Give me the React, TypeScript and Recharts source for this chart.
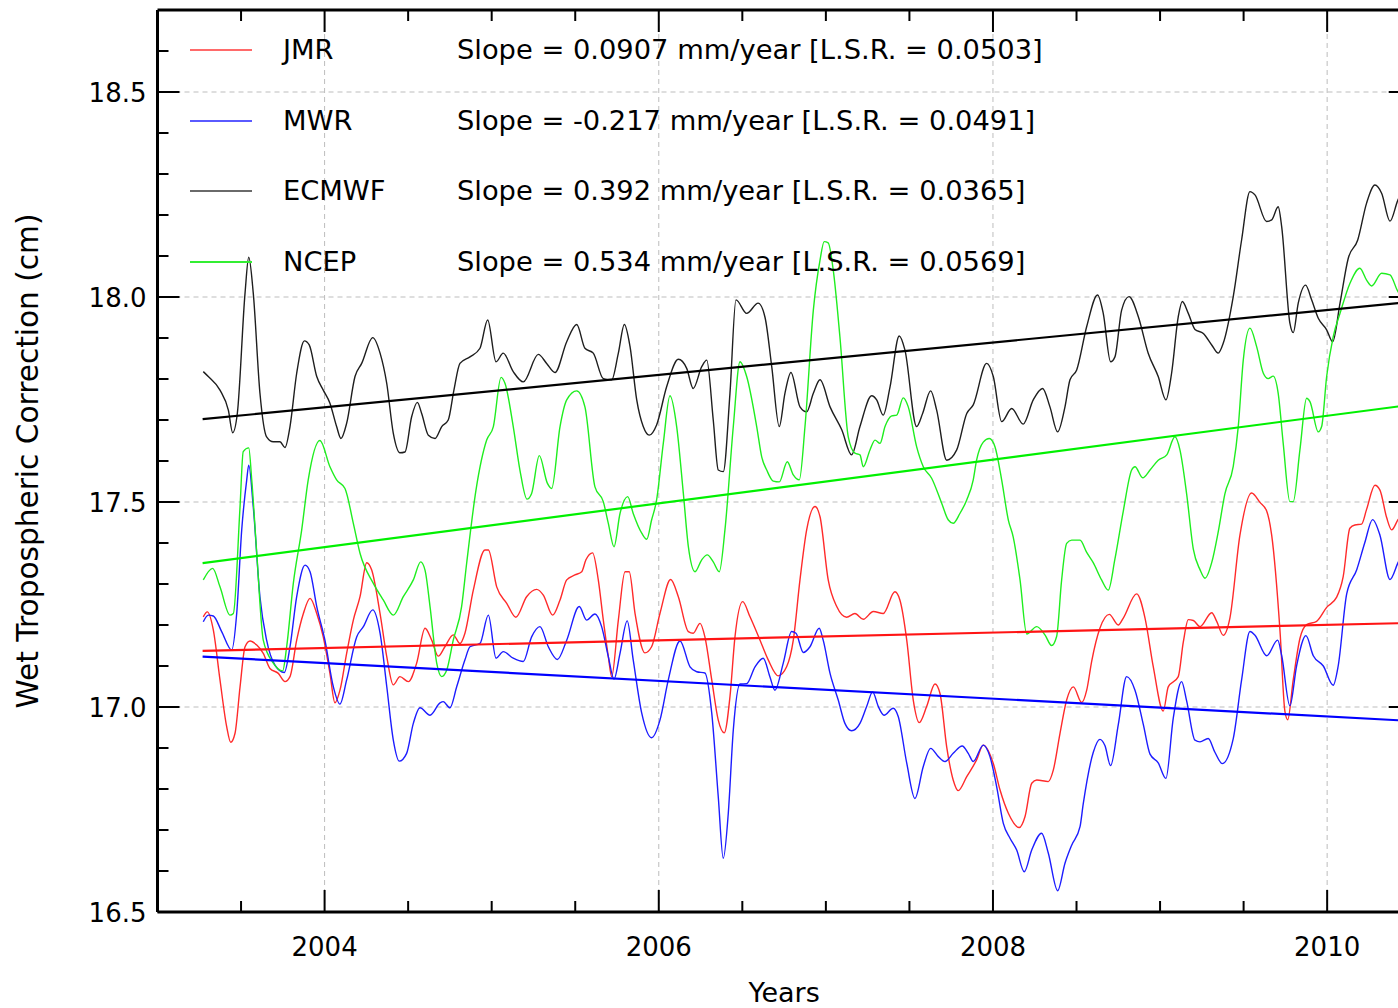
import React from 'react';
import { LineChart, Line, XAxis, YAxis, ReferenceLine, Legend, Label } from 'recharts';

const FONT = '"DejaVu Sans", "Bitstream Vera Sans", sans-serif';

// [year, wet tropospheric correction in cm]
const jmrPts: [number, number][] = [
  [2003.274, 17.22], [2003.298, 17.232], [2003.334, 17.188], [2003.374, 17.066], [2003.414, 16.952],
  [2003.438, 16.914], [2003.464, 16.936], [2003.494, 17.049], [2003.524, 17.147], [2003.554, 17.161],
  [2003.594, 17.151], [2003.633, 17.131], [2003.673, 17.094], [2003.723, 17.082], [2003.763, 17.062],
  [2003.793, 17.074], [2003.833, 17.163], [2003.873, 17.228], [2003.913, 17.265], [2003.953, 17.228],
  [2003.992, 17.171], [2004.032, 17.082], [2004.062, 17.01], [2004.092, 17.041], [2004.132, 17.131],
  [2004.172, 17.212], [2004.212, 17.269], [2004.252, 17.352], [2004.282, 17.334], [2004.332, 17.228],
  [2004.372, 17.123], [2004.411, 17.054], [2004.451, 17.074], [2004.501, 17.062], [2004.551, 17.107],
  [2004.601, 17.192], [2004.641, 17.163], [2004.68, 17.124], [2004.72, 17.147], [2004.77, 17.176],
  [2004.81, 17.155], [2004.84, 17.18], [2004.89, 17.285], [2004.96, 17.383], [2004.98, 17.383],
  [2005.03, 17.293], [2005.09, 17.253], [2005.145, 17.219], [2005.209, 17.269], [2005.269, 17.287],
  [2005.309, 17.273], [2005.365, 17.224], [2005.409, 17.261], [2005.449, 17.31], [2005.498, 17.322],
  [2005.539, 17.33], [2005.564, 17.359], [2005.604, 17.376], [2005.638, 17.31], [2005.668, 17.212],
  [2005.698, 17.123], [2005.718, 17.074], [2005.758, 17.212], [2005.798, 17.33], [2005.823, 17.33],
  [2005.858, 17.228], [2005.917, 17.132], [2005.957, 17.147], [2006.007, 17.228], [2006.071, 17.311],
  [2006.117, 17.269], [2006.177, 17.184], [2006.206, 17.18], [2006.247, 17.204], [2006.276, 17.171],
  [2006.317, 17.066], [2006.356, 16.968], [2006.392, 16.937], [2006.426, 17.025], [2006.456, 17.171],
  [2006.502, 17.257], [2006.546, 17.22], [2006.606, 17.163], [2006.655, 17.115], [2006.715, 17.076],
  [2006.765, 17.098], [2006.805, 17.163], [2006.845, 17.31], [2006.885, 17.432], [2006.935, 17.489],
  [2006.965, 17.464], [2007.014, 17.31], [2007.065, 17.245], [2007.124, 17.219], [2007.174, 17.228],
  [2007.224, 17.214], [2007.284, 17.233], [2007.343, 17.228], [2007.413, 17.281], [2007.443, 17.261],
  [2007.484, 17.163], [2007.523, 17.017], [2007.559, 16.962], [2007.603, 17.001], [2007.653, 17.056],
  [2007.683, 17.033], [2007.723, 16.903], [2007.762, 16.822], [2007.792, 16.796], [2007.843, 16.83],
  [2007.902, 16.871], [2007.942, 16.907], [2008.002, 16.862], [2008.042, 16.798], [2008.092, 16.741],
  [2008.157, 16.706], [2008.192, 16.733], [2008.232, 16.814], [2008.262, 16.822], [2008.331, 16.818],
  [2008.361, 16.846], [2008.401, 16.935], [2008.441, 17.017], [2008.481, 17.049], [2008.531, 17.011],
  [2008.561, 17.041], [2008.591, 17.112], [2008.64, 17.192], [2008.696, 17.226], [2008.75, 17.2],
  [2008.78, 17.217], [2008.86, 17.276], [2008.91, 17.217], [2008.959, 17.099], [2009.019, 16.99],
  [2009.049, 17.049], [2009.109, 17.074], [2009.139, 17.158], [2009.169, 17.213], [2009.199, 17.211],
  [2009.239, 17.196], [2009.309, 17.23], [2009.339, 17.209], [2009.378, 17.175], [2009.418, 17.217],
  [2009.478, 17.419], [2009.548, 17.522], [2009.598, 17.499], [2009.638, 17.478], [2009.668, 17.419],
  [2009.718, 17.184], [2009.747, 16.99], [2009.764, 16.969], [2009.797, 17.066], [2009.837, 17.167],
  [2009.877, 17.201], [2009.937, 17.209], [2009.997, 17.243], [2010.057, 17.268], [2010.096, 17.318],
  [2010.136, 17.436], [2010.166, 17.444], [2010.206, 17.446], [2010.236, 17.482], [2010.286, 17.541],
  [2010.316, 17.529], [2010.356, 17.462], [2010.386, 17.432], [2010.424, 17.457], [2010.5, 17.49],
];

const mwrPts: [number, number][] = [
  [2003.274, 17.208], [2003.304, 17.224], [2003.334, 17.222], [2003.384, 17.184], [2003.444, 17.139],
  [2003.474, 17.228], [2003.504, 17.432], [2003.534, 17.554], [2003.546, 17.59], [2003.573, 17.489],
  [2003.613, 17.269], [2003.653, 17.163], [2003.703, 17.102], [2003.759, 17.084], [2003.793, 17.147],
  [2003.833, 17.269], [2003.883, 17.346], [2003.913, 17.33], [2003.953, 17.245], [2004.002, 17.163],
  [2004.052, 17.05], [2004.092, 17.007], [2004.132, 17.066], [2004.192, 17.171], [2004.232, 17.196],
  [2004.288, 17.237], [2004.332, 17.18], [2004.372, 17.05], [2004.411, 16.92], [2004.447, 16.868],
  [2004.491, 16.887], [2004.531, 16.96], [2004.571, 16.998], [2004.631, 16.98], [2004.691, 17.01],
  [2004.71, 17.013], [2004.75, 16.998], [2004.791, 17.05], [2004.84, 17.115], [2004.87, 17.147],
  [2004.93, 17.155], [2004.98, 17.224], [2005.026, 17.119], [2005.069, 17.135], [2005.129, 17.119],
  [2005.189, 17.111], [2005.239, 17.171], [2005.289, 17.196], [2005.339, 17.147], [2005.393, 17.116],
  [2005.449, 17.163], [2005.524, 17.245], [2005.568, 17.212], [2005.618, 17.227], [2005.658, 17.196],
  [2005.698, 17.123], [2005.732, 17.068], [2005.768, 17.131], [2005.811, 17.21], [2005.847, 17.115],
  [2005.898, 16.985], [2005.957, 16.925], [2006.007, 16.968], [2006.057, 17.066], [2006.127, 17.161],
  [2006.187, 17.098], [2006.227, 17.086], [2006.276, 17.083], [2006.317, 16.985], [2006.356, 16.781],
  [2006.386, 16.631], [2006.416, 16.741], [2006.446, 16.944], [2006.486, 17.056], [2006.526, 17.057],
  [2006.576, 17.098], [2006.625, 17.119], [2006.665, 17.074], [2006.695, 17.041], [2006.745, 17.107],
  [2006.795, 17.184], [2006.821, 17.18], [2006.865, 17.133], [2006.905, 17.147], [2006.96, 17.192],
  [2006.984, 17.163], [2007.025, 17.082], [2007.074, 17.017], [2007.114, 16.96], [2007.154, 16.942],
  [2007.204, 16.96], [2007.244, 17.001], [2007.28, 17.037], [2007.314, 17.001], [2007.348, 16.98],
  [2007.403, 16.997], [2007.433, 16.977], [2007.484, 16.863], [2007.533, 16.777], [2007.583, 16.855],
  [2007.627, 16.899], [2007.673, 16.879], [2007.713, 16.867], [2007.762, 16.887], [2007.816, 16.905],
  [2007.852, 16.887], [2007.882, 16.867], [2007.942, 16.907], [2007.982, 16.879], [2008.022, 16.806],
  [2008.062, 16.716], [2008.102, 16.68], [2008.142, 16.651], [2008.187, 16.598], [2008.232, 16.651],
  [2008.291, 16.692], [2008.331, 16.644], [2008.387, 16.552], [2008.431, 16.619], [2008.471, 16.663],
  [2008.521, 16.708], [2008.54, 16.763], [2008.6, 16.889], [2008.64, 16.921], [2008.67, 16.906],
  [2008.704, 16.857], [2008.75, 16.957], [2008.8, 17.074], [2008.85, 17.041], [2008.9, 16.957],
  [2008.94, 16.885], [2008.989, 16.864], [2009.035, 16.826], [2009.079, 16.973], [2009.129, 17.062],
  [2009.159, 17.015], [2009.209, 16.919], [2009.239, 16.915], [2009.288, 16.923], [2009.329, 16.889],
  [2009.372, 16.862], [2009.438, 16.923], [2009.488, 17.066], [2009.538, 17.184], [2009.568, 17.175],
  [2009.638, 17.125], [2009.704, 17.163], [2009.728, 17.125], [2009.777, 17.003], [2009.817, 17.1],
  [2009.873, 17.174], [2009.917, 17.125], [2009.977, 17.1], [2010.036, 17.053], [2010.066, 17.1],
  [2010.117, 17.276], [2010.177, 17.335], [2010.226, 17.402], [2010.272, 17.457], [2010.316, 17.419],
  [2010.376, 17.311], [2010.424, 17.352], [2010.5, 17.41],
];

const ecmwfPts: [number, number][] = [
  [2003.274, 17.818], [2003.304, 17.806], [2003.374, 17.773], [2003.424, 17.724], [2003.45, 17.669],
  [2003.478, 17.717], [2003.524, 18.01], [2003.546, 18.097], [2003.573, 18.01], [2003.613, 17.766],
  [2003.653, 17.659], [2003.693, 17.647], [2003.733, 17.647], [2003.763, 17.633], [2003.793, 17.684],
  [2003.833, 17.814], [2003.879, 17.893], [2003.908, 17.883], [2003.953, 17.806], [2003.992, 17.773],
  [2004.032, 17.741], [2004.072, 17.684], [2004.098, 17.655], [2004.132, 17.692], [2004.182, 17.806],
  [2004.222, 17.838], [2004.288, 17.901], [2004.332, 17.863], [2004.372, 17.789], [2004.411, 17.668],
  [2004.451, 17.62], [2004.481, 17.622], [2004.521, 17.708], [2004.555, 17.743], [2004.581, 17.716],
  [2004.621, 17.663], [2004.661, 17.655], [2004.701, 17.684], [2004.74, 17.7], [2004.774, 17.773],
  [2004.81, 17.838], [2004.87, 17.854], [2004.93, 17.875], [2004.976, 17.944], [2005.026, 17.842],
  [2005.069, 17.863], [2005.129, 17.818], [2005.189, 17.793], [2005.279, 17.86], [2005.329, 17.838],
  [2005.379, 17.816], [2005.449, 17.891], [2005.509, 17.933], [2005.558, 17.875], [2005.608, 17.863],
  [2005.668, 17.801], [2005.718, 17.798], [2005.758, 17.863], [2005.794, 17.933], [2005.828, 17.879],
  [2005.868, 17.749], [2005.907, 17.684], [2005.943, 17.663], [2005.987, 17.688], [2006.047, 17.781],
  [2006.117, 17.848], [2006.167, 17.826], [2006.206, 17.777], [2006.257, 17.83], [2006.287, 17.846],
  [2006.326, 17.7], [2006.356, 17.578], [2006.386, 17.574], [2006.426, 17.765], [2006.462, 17.993],
  [2006.526, 17.96], [2006.595, 17.985], [2006.636, 17.95], [2006.676, 17.83], [2006.721, 17.684],
  [2006.755, 17.765], [2006.791, 17.816], [2006.845, 17.732], [2006.885, 17.72], [2006.925, 17.765],
  [2006.965, 17.798], [2007.025, 17.732], [2007.095, 17.676], [2007.154, 17.615], [2007.204, 17.684],
  [2007.274, 17.759], [2007.304, 17.749], [2007.343, 17.712], [2007.384, 17.781], [2007.439, 17.905],
  [2007.473, 17.871], [2007.543, 17.684], [2007.579, 17.716], [2007.627, 17.771], [2007.663, 17.724],
  [2007.723, 17.602], [2007.783, 17.627], [2007.843, 17.716], [2007.882, 17.737], [2007.962, 17.838],
  [2008.002, 17.806], [2008.052, 17.696], [2008.112, 17.728], [2008.181, 17.69], [2008.241, 17.749],
  [2008.297, 17.777], [2008.341, 17.732], [2008.387, 17.671], [2008.431, 17.732], [2008.461, 17.798],
  [2008.501, 17.822], [2008.561, 17.928], [2008.626, 18.005], [2008.66, 17.96], [2008.704, 17.842],
  [2008.73, 17.854], [2008.77, 17.968], [2008.814, 18.001], [2008.87, 17.952], [2008.929, 17.863],
  [2008.989, 17.806], [2009.035, 17.749], [2009.069, 17.814], [2009.109, 17.952], [2009.133, 17.989],
  [2009.169, 17.96], [2009.209, 17.921], [2009.259, 17.911], [2009.309, 17.883], [2009.348, 17.863],
  [2009.378, 17.887], [2009.438, 18.001], [2009.488, 18.139], [2009.538, 18.257], [2009.568, 18.249],
  [2009.638, 18.184], [2009.668, 18.188], [2009.707, 18.22], [2009.728, 18.171], [2009.777, 17.936],
  [2009.797, 17.913], [2009.827, 17.985], [2009.871, 18.029], [2009.907, 17.993], [2009.947, 17.948],
  [2009.997, 17.92], [2010.033, 17.891], [2010.077, 17.985], [2010.126, 18.094], [2010.183, 18.139],
  [2010.236, 18.229], [2010.286, 18.273], [2010.326, 18.253], [2010.376, 18.185], [2010.424, 18.237],
  [2010.5, 18.27],
];

const ncepPts: [number, number][] = [
  [2003.274, 17.31], [2003.33, 17.338], [2003.374, 17.293], [2003.434, 17.224], [2003.454, 17.228],
  [2003.494, 17.489], [2003.513, 17.623], [2003.546, 17.632], [2003.564, 17.554], [2003.594, 17.375],
  [2003.633, 17.163], [2003.693, 17.107], [2003.749, 17.088], [2003.773, 17.147], [2003.813, 17.302],
  [2003.863, 17.432], [2003.902, 17.554], [2003.972, 17.65], [2004.032, 17.586], [2004.072, 17.554],
  [2004.122, 17.533], [2004.172, 17.448], [2004.212, 17.375], [2004.291, 17.302], [2004.351, 17.261],
  [2004.411, 17.224], [2004.471, 17.269], [2004.531, 17.31], [2004.575, 17.354], [2004.601, 17.334],
  [2004.631, 17.245], [2004.671, 17.107], [2004.701, 17.074], [2004.731, 17.09], [2004.77, 17.163],
  [2004.82, 17.245], [2004.85, 17.35], [2004.906, 17.529], [2004.97, 17.651], [2005.01, 17.684],
  [2005.056, 17.804], [2005.08, 17.789], [2005.129, 17.684], [2005.169, 17.578], [2005.211, 17.507],
  [2005.239, 17.521], [2005.285, 17.613], [2005.333, 17.546], [2005.359, 17.533], [2005.409, 17.684],
  [2005.449, 17.749], [2005.509, 17.771], [2005.558, 17.732], [2005.618, 17.537], [2005.668, 17.501],
  [2005.698, 17.448], [2005.732, 17.391], [2005.768, 17.472], [2005.814, 17.513], [2005.847, 17.472],
  [2005.898, 17.424], [2005.928, 17.409], [2005.957, 17.456], [2005.987, 17.505], [2006.027, 17.643],
  [2006.067, 17.759], [2006.107, 17.684], [2006.147, 17.521], [2006.177, 17.391], [2006.217, 17.33],
  [2006.257, 17.359], [2006.29, 17.371], [2006.326, 17.354], [2006.362, 17.33], [2006.396, 17.432],
  [2006.446, 17.684], [2006.486, 17.842], [2006.526, 17.806], [2006.586, 17.684], [2006.616, 17.61],
  [2006.646, 17.578], [2006.685, 17.551], [2006.721, 17.549], [2006.769, 17.598], [2006.805, 17.566],
  [2006.841, 17.554], [2006.875, 17.684], [2006.925, 17.968], [2006.965, 18.09], [2006.99, 18.135],
  [2007.014, 18.132], [2007.044, 18.066], [2007.084, 17.903], [2007.134, 17.659], [2007.174, 17.619],
  [2007.204, 17.615], [2007.224, 17.586], [2007.264, 17.627], [2007.294, 17.651], [2007.324, 17.643],
  [2007.354, 17.684], [2007.394, 17.71], [2007.424, 17.712], [2007.463, 17.754], [2007.493, 17.732],
  [2007.543, 17.635], [2007.583, 17.586], [2007.633, 17.558], [2007.693, 17.497], [2007.733, 17.456],
  [2007.762, 17.448], [2007.802, 17.472], [2007.843, 17.505], [2007.882, 17.554], [2007.902, 17.602],
  [2007.942, 17.646], [2007.978, 17.655], [2008.012, 17.635], [2008.052, 17.554], [2008.092, 17.456],
  [2008.121, 17.415], [2008.162, 17.31], [2008.202, 17.178], [2008.262, 17.196], [2008.311, 17.176],
  [2008.351, 17.15], [2008.381, 17.172], [2008.411, 17.31], [2008.441, 17.399], [2008.471, 17.407],
  [2008.521, 17.407], [2008.561, 17.377], [2008.6, 17.352], [2008.65, 17.31], [2008.69, 17.285],
  [2008.73, 17.361], [2008.78, 17.478], [2008.83, 17.578], [2008.85, 17.586], [2008.896, 17.559],
  [2008.94, 17.578], [2008.989, 17.602], [2009.04, 17.615], [2009.089, 17.659], [2009.119, 17.627],
  [2009.159, 17.52], [2009.199, 17.385], [2009.239, 17.335], [2009.269, 17.314], [2009.309, 17.352],
  [2009.348, 17.427], [2009.388, 17.52], [2009.438, 17.587], [2009.468, 17.684], [2009.498, 17.846],
  [2009.538, 17.924], [2009.578, 17.879], [2009.618, 17.814], [2009.647, 17.801], [2009.677, 17.807],
  [2009.707, 17.765], [2009.737, 17.643], [2009.777, 17.501], [2009.797, 17.501], [2009.837, 17.627],
  [2009.877, 17.753], [2009.897, 17.745], [2009.947, 17.671], [2009.967, 17.684], [2009.997, 17.806],
  [2010.036, 17.903], [2010.077, 17.96], [2010.136, 18.033], [2010.196, 18.07], [2010.236, 18.041],
  [2010.266, 18.027], [2010.326, 18.058], [2010.376, 18.054], [2010.424, 18.013], [2010.5, 17.99],
];

// least-squares trend lines: end values
const jmrTrend: [number, number][] = [[2003.27, 17.137], [2010.5, 17.205]];
const mwrTrend: [number, number][] = [[2003.27, 17.123], [2010.5, 16.966]];
const ecmwfTrend: [number, number][] = [[2003.27, 17.702], [2010.5, 17.988]];
const ncepTrend: [number, number][] = [[2003.27, 17.351], [2010.5, 17.737]];

const seriesNames = ['JMR', 'MWR', 'ECMWF', 'NCEP'];
const slopeLabels = [
  'Slope = 0.0907 mm/year [L.S.R. = 0.0503]',
  'Slope = -0.217 mm/year [L.S.R. = 0.0491]',
  'Slope = 0.392 mm/year [L.S.R. = 0.0365]',
  'Slope = 0.534 mm/year [L.S.R. = 0.0569]',
];
const lineColors = ['#ff2a2a', '#1c1cff', '#1e1e1e', '#1fee1f'];
const trendColors = ['#ff1414', '#0000ff', '#000000', '#00f000'];
const legendColors = ['#ff6a6a', '#5a5aff', '#6a6a6a', '#33ee33'];

const xTicks = [2003.5, 2004, 2004.5, 2005, 2005.5, 2006, 2006.5, 2007, 2007.5, 2008, 2008.5, 2009, 2009.5, 2010];
const xMajor = [2004, 2006, 2008, 2010];
const yTicks = [16.5, 16.6, 16.7, 16.8, 16.9, 17, 17.1, 17.2, 17.3, 17.4, 17.5, 17.6, 17.7, 17.8, 17.9, 18, 18.1, 18.2, 18.3, 18.4, 18.5, 18.6];
const yMajor = [16.5, 17, 17.5, 18, 18.5];
const xGrid = [2004, 2006, 2008, 2010];
const yGrid = [17, 17.5, 18, 18.5];

const rows = (pts: [number, number][]) => pts.map(([t, v]) => ({ t, v }));
const isIn = (list: number[], v: number) => list.some((m) => Math.abs(m - v) < 1e-6);

const BottomTick = ({ x, y, payload }: any) => {
  const major = isIn(xMajor, payload.value);
  return (
    <g>
      <line x1={x} y1={y} x2={x} y2={y - (major ? 22 : 11)} stroke="#000" strokeWidth={2} />
      {major && (
        <text x={x} y={y + 44} textAnchor="middle" fontSize={26} fontFamily={FONT} fill="#000">
          {payload.value}
        </text>
      )}
    </g>
  );
};

const TopTick = ({ x, y, payload }: any) => {
  const major = isIn(xMajor, payload.value);
  return <line x1={x} y1={y} x2={x} y2={y + (major ? 22 : 11)} stroke="#000" strokeWidth={2} />;
};

const LeftTick = ({ x, y, payload }: any) => {
  const major = isIn(yMajor, payload.value);
  return (
    <g>
      <line x1={x} y1={y} x2={x + (major ? 22 : 11)} y2={y} stroke="#000" strokeWidth={2} />
      {major && (
        <text x={x - 11} y={y + 9.5} textAnchor="end" fontSize={26} fontFamily={FONT} fill="#000">
          {payload.value.toFixed(1)}
        </text>
      )}
    </g>
  );
};

const RightTick = ({ x, y, payload }: any) => {
  const major = isIn(yMajor, payload.value);
  return <line x1={x} y1={y} x2={x - (major ? 22 : 11)} y2={y} stroke="#000" strokeWidth={2} />;
};

const YTitle = ({ viewBox }: any) => {
  const cx = viewBox.x + 28;
  const cy = viewBox.y + viewBox.height / 2;
  return (
    <text x={cx} y={cy} transform={`rotate(-90, ${cx}, ${cy})`} textAnchor="middle" dominantBaseline="central"
      fontSize={29.6} fontFamily={FONT} fill="#000">
      Wet Tropospheric Correction (cm)
    </text>
  );
};

const XTitle = ({ viewBox }: any) => (
  <text x={viewBox.x + viewBox.width / 2} y={viewBox.y + 90} textAnchor="middle" fontSize={27} fontFamily={FONT} fill="#000">
    Years
  </text>
);

const LegendBox = () => (
  <div style={{ position: 'relative', width: 900, height: 260, fontFamily: FONT, fontSize: 27.3, color: '#000' }}>
    {seriesNames.map((name, i) => (
      <div key={name} style={{ position: 'absolute', left: 0, top: i * 70.7, height: 40, lineHeight: '40px', width: 900 }}>
        <div style={{ position: 'absolute', left: 0, top: 19, width: 62, height: 0, borderTop: `2px solid ${legendColors[i]}` }} />
        <span style={{ position: 'absolute', left: 93, top: 0, whiteSpace: 'pre' }}>{name}</span>
        <span style={{ position: 'absolute', left: 267, top: 0, whiteSpace: 'pre' }}>{slopeLabels[i]}</span>
      </div>
    ))}
  </div>
);

const dataSeries = [jmrPts, mwrPts, ecmwfPts, ncepPts];
const trendSeries = [jmrTrend, mwrTrend, ecmwfTrend, ncepTrend];

export default function App() {
  return (
    <div style={{ position: 'absolute', left: 0, top: 0, width: 1398, height: 1008, overflow: 'hidden', background: '#fff' }}>
      <LineChart width={1420} height={1008} margin={{ top: 9, right: 8.3, bottom: 0, left: 0 }}>
        <XAxis xAxisId={0} dataKey="t" type="number" domain={[2003, 2010.5]} allowDataOverflow ticks={xTicks}
          interval={0} height={96} tickSize={0} tickMargin={0} tickLine={false} tick={<BottomTick />}
          axisLine={{ stroke: '#000', strokeWidth: 3 }}>
          <Label content={<XTitle />} />
        </XAxis>
        <XAxis xAxisId="top" orientation="top" dataKey="t" type="number" domain={[2003, 2010.5]} allowDataOverflow
          ticks={xTicks} interval={0} height={1} tickSize={0} tickMargin={0} tickLine={false} tick={<TopTick />}
          axisLine={{ stroke: '#000', strokeWidth: 3 }} />
        <YAxis yAxisId={0} type="number" domain={[16.5, 18.7]} allowDataOverflow ticks={yTicks} interval={0}
          width={157.5} tickSize={0} tickMargin={0} tickLine={false} tick={<LeftTick />}
          axisLine={{ stroke: '#000', strokeWidth: 3 }}>
          <Label content={<YTitle />} />
        </YAxis>
        <YAxis yAxisId="right" orientation="right" type="number" domain={[16.5, 18.7]} allowDataOverflow ticks={yTicks}
          interval={0} width={1} tickSize={0} tickMargin={0} tickLine={false} tick={<RightTick />}
          axisLine={{ stroke: '#000', strokeWidth: 3 }} />

        {xGrid.map((g) => (
          <ReferenceLine key={`gx${g}`} x={g} stroke="#bdbdbd" strokeDasharray="5 4" strokeWidth={1} />
        ))}
        {yGrid.map((g) => (
          <ReferenceLine key={`gy${g}`} y={g} stroke="#bdbdbd" strokeDasharray="5 4" strokeWidth={1} />
        ))}

        {dataSeries.map((pts, i) => (
          <Line key={seriesNames[i]} data={rows(pts)} dataKey="v" name={seriesNames[i]} type="monotone"
            stroke={lineColors[i]} strokeWidth={1.4} dot={false} activeDot={false} isAnimationActive={false} />
        ))}
        {trendSeries.map((pts, i) => (
          <Line key={`trend${seriesNames[i]}`} data={rows(pts)} dataKey="v" name={`${seriesNames[i]} fit`} type="linear"
            stroke={trendColors[i]} strokeWidth={2.2} dot={false} activeDot={false} legendType="none"
            isAnimationActive={false} />
        ))}

        <Legend layout="horizontal" verticalAlign="middle" align="center" content={<LegendBox />}
          wrapperStyle={{ left: 190, top: 30, width: 900, height: 260 }} />
      </LineChart>
    </div>
  );
}
